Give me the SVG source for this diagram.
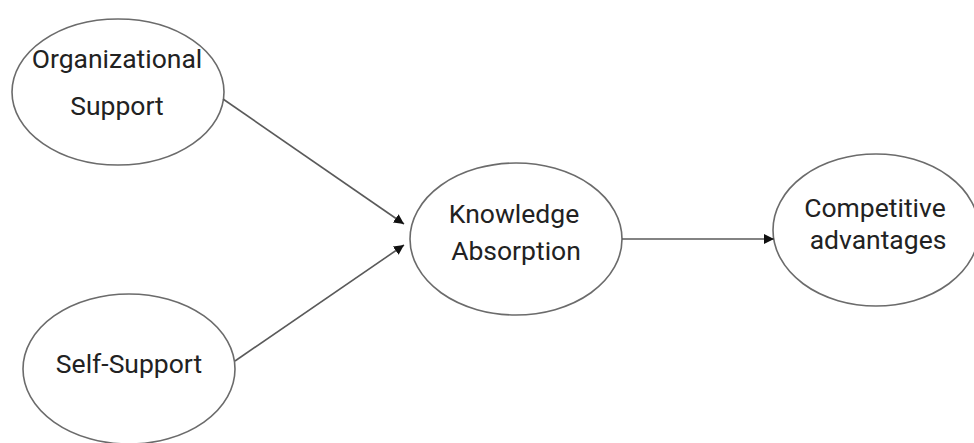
<svg xmlns="http://www.w3.org/2000/svg" width="974" height="443" viewBox="0 0 974 443">
<style>
.n{fill:#fff;stroke:#6b6b6b;stroke-width:1.6}
.t{font-family:Roboto,"Liberation Sans",sans-serif;font-size:26.5px;fill:#222;text-anchor:middle}
.c{stroke:#5a5a5a;stroke-width:1.6;fill:none;marker-end:url(#ah)}
</style>
<defs>
<marker id="ah" viewBox="0 0 10 10" refX="10" refY="5" markerWidth="10" markerHeight="10" markerUnits="userSpaceOnUse" orient="auto">
<path d="M0,0 L10,5 L0,10 z" fill="#111"/>
</marker>
</defs>
<rect width="974" height="443" fill="#fff"/>
<g id="org">
<ellipse class="n" cx="118" cy="92" rx="106" ry="73"/>
<text class="t" x="117" y="68">Organizational</text>
<text class="t" x="117" y="115">Support</text>
</g>
<g id="self">
<ellipse class="n" cx="129" cy="369" rx="106" ry="75"/>
<text class="t" x="129" y="373">Self-Support</text>
</g>
<g id="ka">
<ellipse class="n" cx="516" cy="239" rx="106" ry="76"/>
<text class="t" x="514" y="223">Knowledge</text>
<text class="t" x="516" y="260">Absorption</text>
</g>
<g id="ca">
<ellipse class="n" cx="876" cy="230" rx="103" ry="76"/>
<text class="t" x="875" y="217">Competitive</text>
<text class="t" x="878" y="249">advantages</text>
</g>
<g id="connectors">
<line class="c" x1="223" y1="99" x2="404" y2="224"/>
<line class="c" x1="235" y1="361" x2="404" y2="245"/>
<line class="c" x1="622" y1="239" x2="774" y2="239"/>
</g>
</svg>
